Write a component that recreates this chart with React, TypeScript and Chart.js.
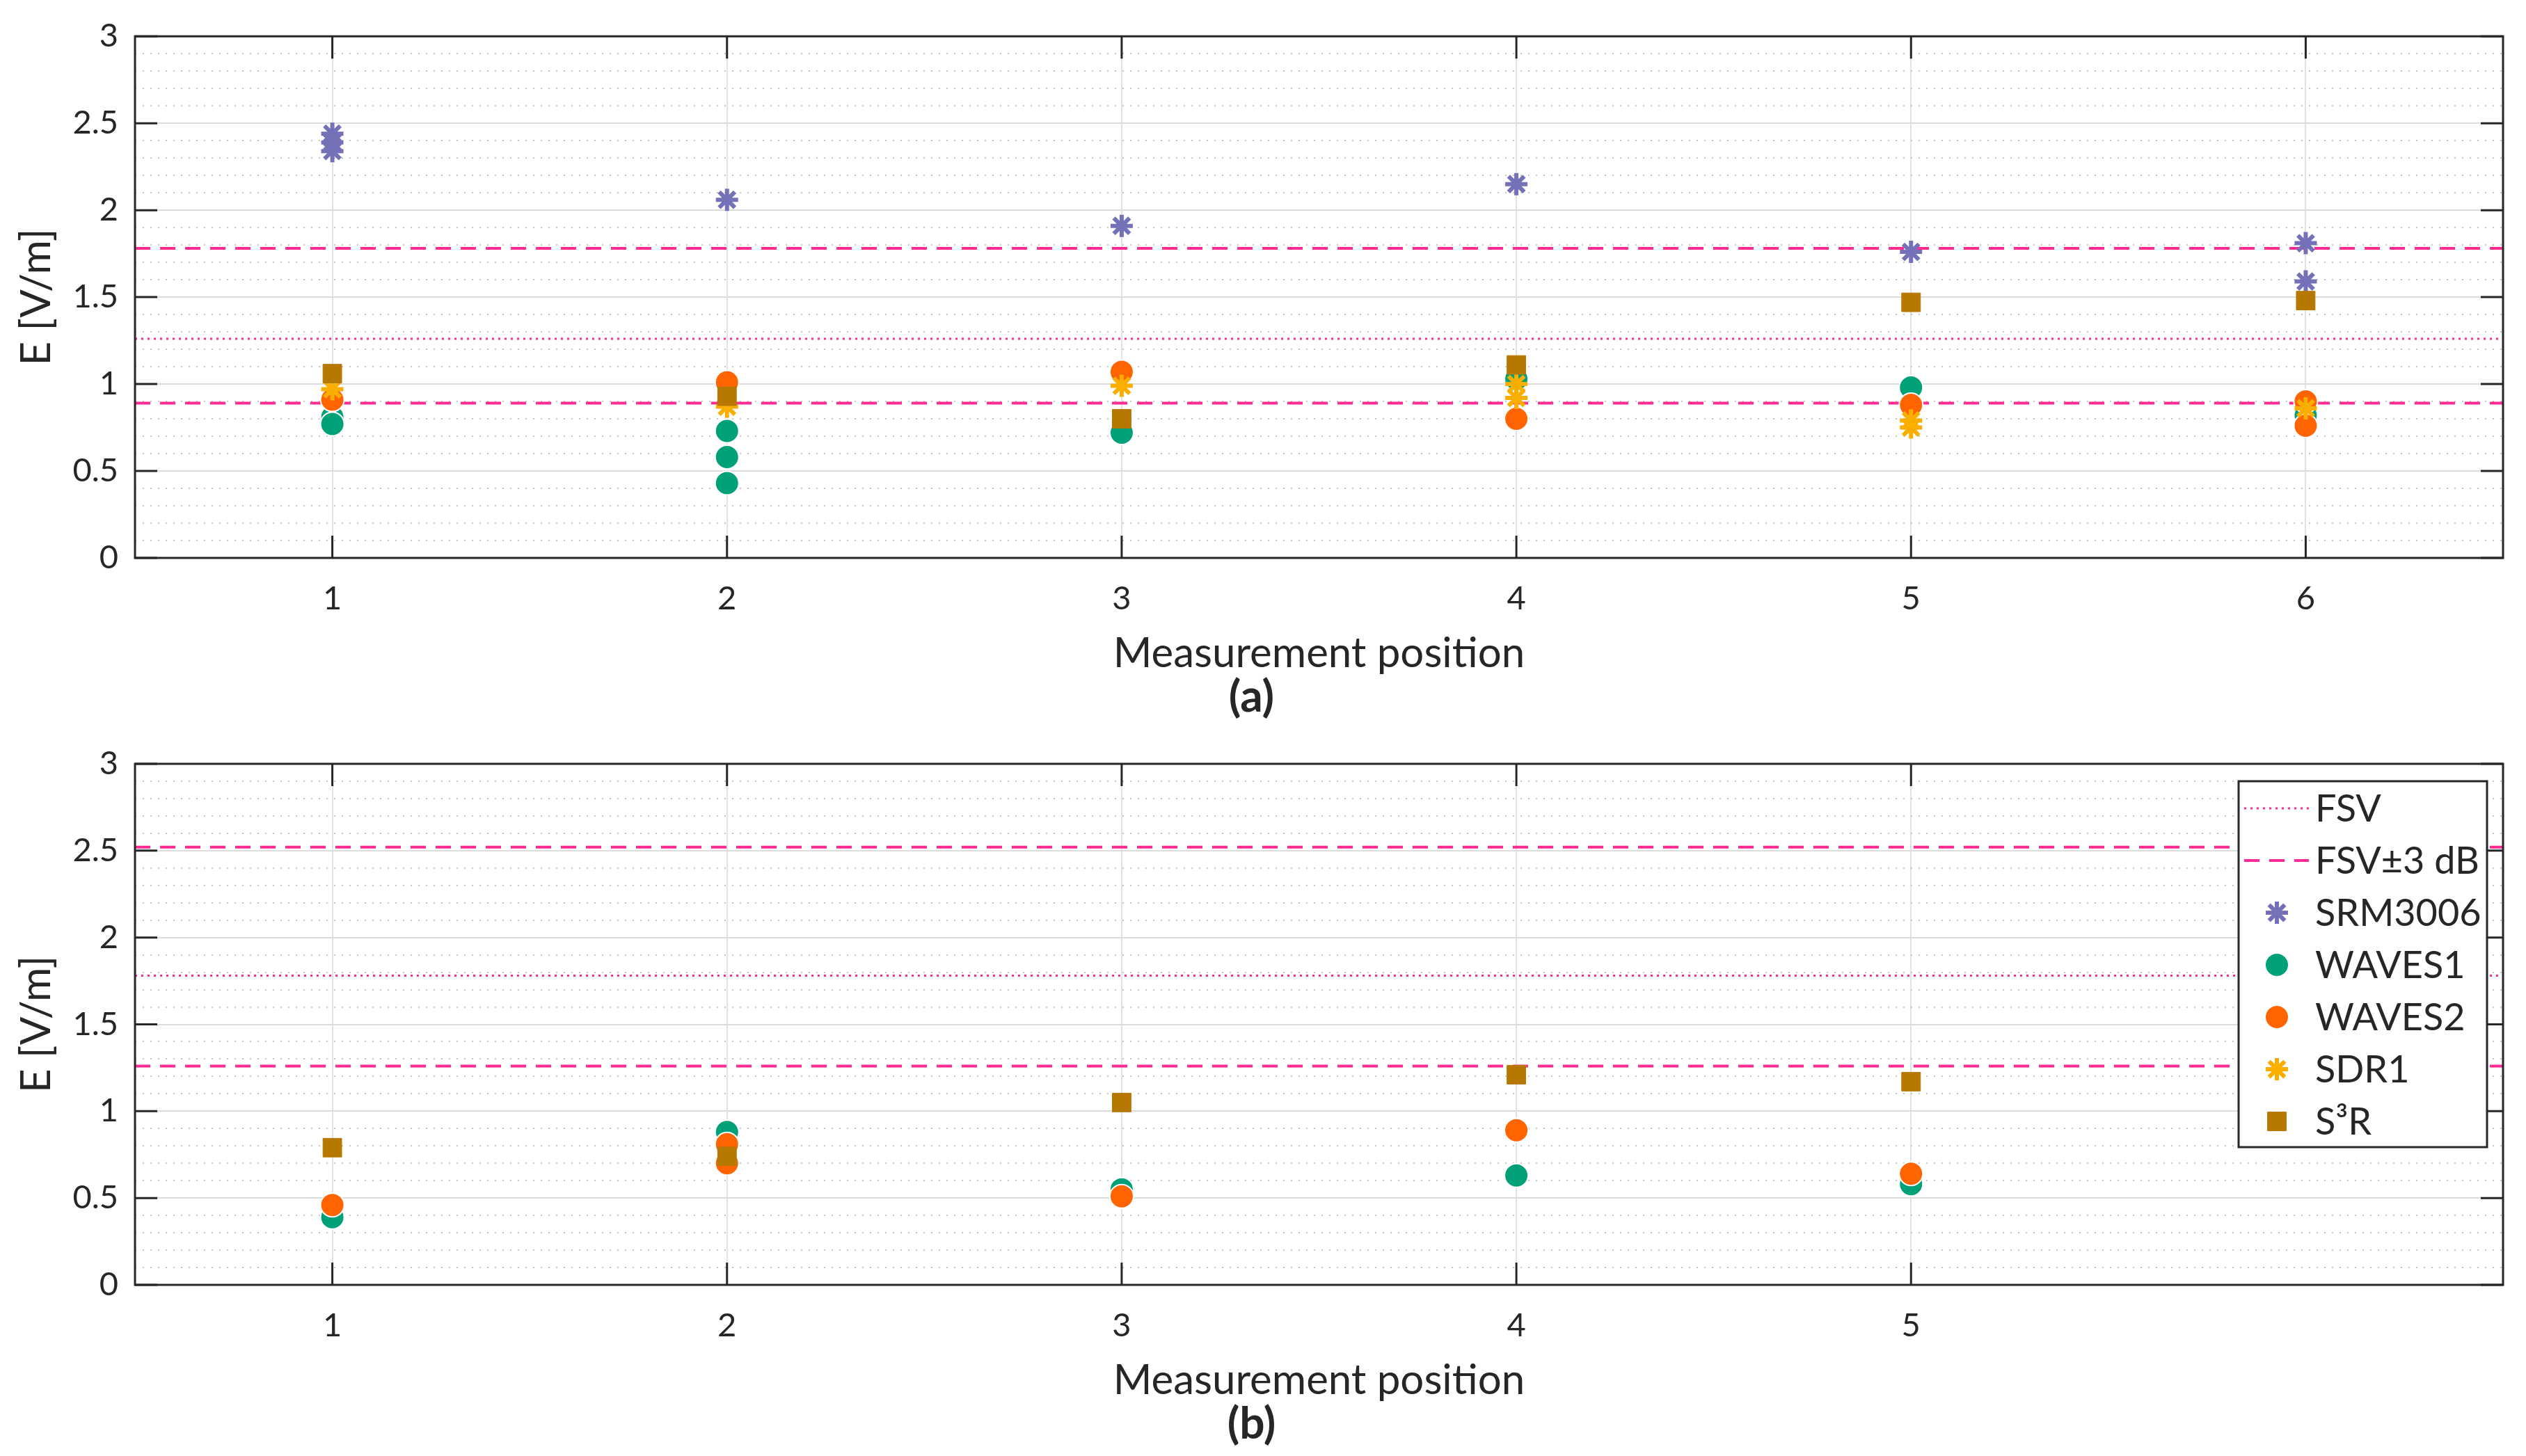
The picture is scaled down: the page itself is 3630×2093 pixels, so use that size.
import React, { useEffect, useRef } from "react";
import { Chart, registerables } from "chart.js";
import { drawPoint } from "chart.js/helpers";

Chart.register(...registerables);

const FONT = "Lato, 'Open Sans', sans-serif";
const INK = "#262626";

// colours
const C_SRM = "#7571b9";
const C_W1 = "#00a078";
const C_W2 = "#ff6400";
const C_SDR = "#f9ae00";
const C_S3R = "#b67800";
const C_FSV = "#ff2a92";

// axes
const xRange = [0.5, 6.5];
const xTicksA = [1, 2, 3, 4, 5, 6];
const xTicksB = [1, 2, 3, 4, 5];
const yTicks = [0, 0.5, 1, 1.5, 2, 2.5, 3];

const legendLabels = ["FSV", "FSV±3 dB", "SRM3006", "WAVES1", "WAVES2", "SDR1", "S³R"];

// panel (a)
const fsvA = 1.26;
const fsvA_hi = 1.78;
const fsvA_lo = 0.89;
const srmA_pos = [1, 1, 1, 2, 3, 4, 5, 6, 6];
const srmA_val = [2.44, 2.39, 2.34, 2.06, 1.91, 2.15, 1.76, 1.81, 1.59];
const wav1A_pos = [1, 1, 2, 2, 2, 3, 4, 5, 6];
const wav1A_val = [0.81, 0.77, 0.73, 0.58, 0.43, 0.72, 1.03, 0.98, 0.82];
const wav2A_pos = [1, 2, 3, 4, 5, 6, 6];
const wav2A_val = [0.91, 1.01, 1.07, 0.8, 0.88, 0.9, 0.76];
const sdrA_pos = [1, 2, 3, 4, 4, 5, 5, 6];
const sdrA_val = [0.97, 0.87, 0.99, 1.0, 0.92, 0.79, 0.75, 0.86];
const s3rA_pos = [1, 2, 3, 4, 5, 6];
const s3rA_val = [1.06, 0.93, 0.8, 1.11, 1.47, 1.48];

// panel (b)
const fsvB = 1.78;
const fsvB_hi = 2.52;
const fsvB_lo = 1.26;
const srmB_pos: number[] = [];
const srmB_val: number[] = [];
const wav1B_pos = [1, 2, 3, 4, 5];
const wav1B_val = [0.39, 0.88, 0.55, 0.63, 0.58];
const wav2B_pos = [1, 2, 2, 3, 4, 5];
const wav2B_val = [0.46, 0.81, 0.7, 0.51, 0.89, 0.64];
const sdrB_pos: number[] = [];
const sdrB_val: number[] = [];
const s3rB_pos = [1, 2, 3, 4, 5];
const s3rB_val = [0.79, 0.74, 1.05, 1.21, 1.17];

const pts = (xs: number[], ys: number[]) => xs.map((x, i) => ({ x, y: ys[i] }));

function buildDatasets(
  fsv: number, hi: number, lo: number,
  srm: [number[], number[]], w1: [number[], number[]], w2: [number[], number[]],
  sdr: [number[], number[]], s3r: [number[], number[]]
) {
  const line = (label: string, data: any[], dash: number[], width: number) => ({
    label, data, showLine: true, pointRadius: 0, borderColor: C_FSV, backgroundColor: C_FSV,
    borderDash: dash, borderWidth: width, spanGaps: false, order: 6,
  });
  const marker = (label: string, d: [number[], number[]], style: string, radius: number, color: string, bw: number, edge: string, order: number) => ({
    label, data: pts(d[0], d[1]), showLine: false, pointStyle: style, pointRadius: radius,
    pointHoverRadius: radius, backgroundColor: color, borderColor: edge, pointBorderWidth: bw, order,
  });
  return [
    line("FSV", pts(xRange, [fsv, fsv]), [3, 6], 3),
    line("FSV±3 dB", [...pts(xRange, [hi, hi]), { x: xRange[1], y: null }, ...pts(xRange, [lo, lo])], [22, 14], 4),
    marker("SRM3006", srm, "star", 16, C_SRM, 6, C_SRM, 5),
    marker("WAVES1", w1, "circle", 17, C_W1, 2, "#ffffff", 4),
    marker("WAVES2", w2, "circle", 17, C_W2, 2, "#ffffff", 3),
    marker("SDR1", sdr, "star", 16, C_SDR, 6, C_SDR, 2),
    marker("S³R", s3r, "rect", 19, C_S3R, 1, C_S3R, 1),
  ];
}

// axes box with inward ticks, like the original plot
const framePlugin = {
  id: "frame",
  afterDraw(chart: any) {
    const { ctx, chartArea: a, scales } = chart;
    const L = 32;
    ctx.save();
    ctx.strokeStyle = INK;
    ctx.lineWidth = 3;
    ctx.beginPath();
    scales.y.ticks.forEach((t: any) => {
      const y = scales.y.getPixelForValue(t.value);
      ctx.moveTo(a.left, y); ctx.lineTo(a.left + L, y);
      ctx.moveTo(a.right, y); ctx.lineTo(a.right - L, y);
    });
    scales.x.ticks.forEach((t: any) => {
      const x = scales.x.getPixelForValue(t.value);
      ctx.moveTo(x, a.bottom); ctx.lineTo(x, a.bottom - L);
      ctx.moveTo(x, a.top); ctx.lineTo(x, a.top + L);
    });
    ctx.stroke();
    ctx.strokeRect(a.left, a.top, a.right - a.left, a.bottom - a.top);
    ctx.restore();
  },
};

const boxLegendPlugin = {
  id: "boxLegend",
  afterDraw(chart: any, _args: any, opts: any) {
    if (!opts || !opts.show) return;
    const { ctx, chartArea: a } = chart;
    const w = 357, h = 526;
    const left = a.right - 23 - w;
    const top = a.top + 25;
    ctx.save();
    ctx.fillStyle = "#ffffff";
    ctx.fillRect(left, top, w, h);
    ctx.strokeStyle = INK;
    ctx.lineWidth = 3;
    ctx.strokeRect(left, top, w, h);
    ctx.font = `54px ${FONT}`;
    ctx.textBaseline = "middle";
    ctx.textAlign = "left";
    legendLabels.forEach((label, i) => {
      const ds = chart.data.datasets.find((d: any) => d.label === label);
      if (!ds) return;
      const y = top + 39 + i * 75;
      if (ds.showLine) {
        ctx.save();
        ctx.strokeStyle = ds.borderColor;
        ctx.lineWidth = ds.borderWidth;
        ctx.setLineDash(ds.borderDash);
        ctx.beginPath();
        ctx.moveTo(left + 8, y);
        ctx.lineTo(left + 101, y);
        ctx.stroke();
        ctx.restore();
      } else {
        ctx.save();
        ctx.fillStyle = ds.backgroundColor;
        ctx.strokeStyle = ds.borderColor;
        ctx.lineWidth = ds.pointBorderWidth;
        drawPoint(ctx, { pointStyle: ds.pointStyle, radius: ds.pointRadius, borderWidth: ds.pointBorderWidth, rotation: 0 }, left + 55, y);
        ctx.restore();
      }
      ctx.fillStyle = INK;
      ctx.fillText(label, left + 110, y + 2);
    });
    ctx.restore();
  },
};

interface PanelProps {
  top: number;
  height: number;
  caption: string;
  xTicks: number[];
  datasets: any[];
  legend: boolean;
  bottomPad: number;
  topPad: number;
}

const Panel: React.FC<PanelProps> = ({ top, height, caption, xTicks, datasets, legend, bottomPad, topPad }) => {
  const chartRef = useRef<HTMLCanvasElement>(null);
  const chartInstance = useRef<Chart | null>(null);

  useEffect(() => {
    if (!chartRef.current) return;
    const ctx = chartRef.current.getContext("2d");
    if (!ctx) return;
    if (chartInstance.current) chartInstance.current.destroy();
    chartInstance.current = new Chart(ctx, {
      type: "scatter",
      data: { datasets },
      plugins: [framePlugin, boxLegendPlugin],
      options: {
        animation: false,
        responsive: true,
        maintainAspectRatio: false,
        layout: { padding: { top: topPad, right: 33, left: 0, bottom: bottomPad } },
        scales: {
          x: {
            type: "linear",
            min: xRange[0],
            max: xRange[1],
            afterBuildTicks: (s: any) => { s.ticks = xTicks.map((v) => ({ value: v })); },
            afterFit: (s: any) => { s.height = 168; },
            grid: { color: "#e2e2e2", lineWidth: 2, drawTicks: false },
            border: { display: false },
            ticks: { font: { family: FONT, size: 47 }, color: INK, padding: 31, maxRotation: 0, autoSkip: false, callback: (v: any) => String(v) },
            title: { display: true, text: "Measurement position", font: { family: FONT, size: 60, lineHeight: 1 }, color: INK, padding: 0 },
          },
          y: {
            type: "linear",
            min: 0,
            max: 3,
            afterBuildTicks: (s: any) => { s.ticks = yTicks.map((v) => ({ value: v })); },
            afterFit: (s: any) => { s.width = 194; },
            grid: { color: "#dcdcdc", lineWidth: 2, drawTicks: false },
            border: { display: false },
            ticks: { font: { family: FONT, size: 47 }, color: INK, padding: 24, callback: (v: any) => String(v) },
            title: { display: true, text: "E [V/m]", font: { family: FONT, size: 60, lineHeight: 1.2 }, color: INK, padding: { top: 17, bottom: 0 } },
          },
          yMinor: {
            type: "linear",
            position: "left",
            min: 0,
            max: 3,
            afterFit: (s: any) => { s.width = 0; },
            ticks: { display: false, stepSize: 0.1 },
            grid: {
              drawTicks: false,
              lineWidth: 2,
              color: (c: any) => {
                const v = c.tick ? c.tick.value : 0;
                return Math.abs(v * 2 - Math.round(v * 2)) < 1e-6 ? "rgba(0,0,0,0)" : "#c6c6c6";
              },
            },
            border: { display: false, dash: [2, 9] },
          },
        },
        plugins: {
          legend: { display: false },
          tooltip: { enabled: false },
          subtitle: {
            display: true,
            position: "bottom",
            text: caption,
            color: INK,
            font: { family: FONT, size: 64, weight: "bold", lineHeight: 1 },
            padding: 0,
          },
          boxLegend: { show: legend },
        } as any,
      },
    } as any);
    return () => {
      if (chartInstance.current) {
        chartInstance.current.destroy();
        chartInstance.current = null;
      }
    };
  }, [datasets, xTicks, caption, legend, bottomPad, topPad]);

  return (
    <div style={{ position: "absolute", left: 0, top, width: 3630, height }}>
      <canvas ref={chartRef} />
    </div>
  );
};

const datasetsA = buildDatasets(fsvA, fsvA_hi, fsvA_lo,
  [srmA_pos, srmA_val], [wav1A_pos, wav1A_val], [wav2A_pos, wav2A_val], [sdrA_pos, sdrA_val], [s3rA_pos, s3rA_val]);
const datasetsB = buildDatasets(fsvB, fsvB_hi, fsvB_lo,
  [srmB_pos, srmB_val], [wav1B_pos, wav1B_val], [wav2B_pos, wav2B_val], [sdrB_pos, sdrB_val], [s3rB_pos, s3rB_val]);

export default function App() {
  return (
    <div style={{ position: "absolute", left: 0, top: 0, width: 3630, height: 2093, background: "#ffffff", overflow: "hidden" }}>
      <Panel top={0} height={1045} caption="(a)" xTicks={xTicksA} datasets={datasetsA} legend={false} topPad={52} bottomPad={11} />
      <Panel top={1045} height={1048} caption="(b)" xTicks={xTicksB} datasets={datasetsB} legend={true} topPad={53} bottomPad={14} />
    </div>
  );
}
